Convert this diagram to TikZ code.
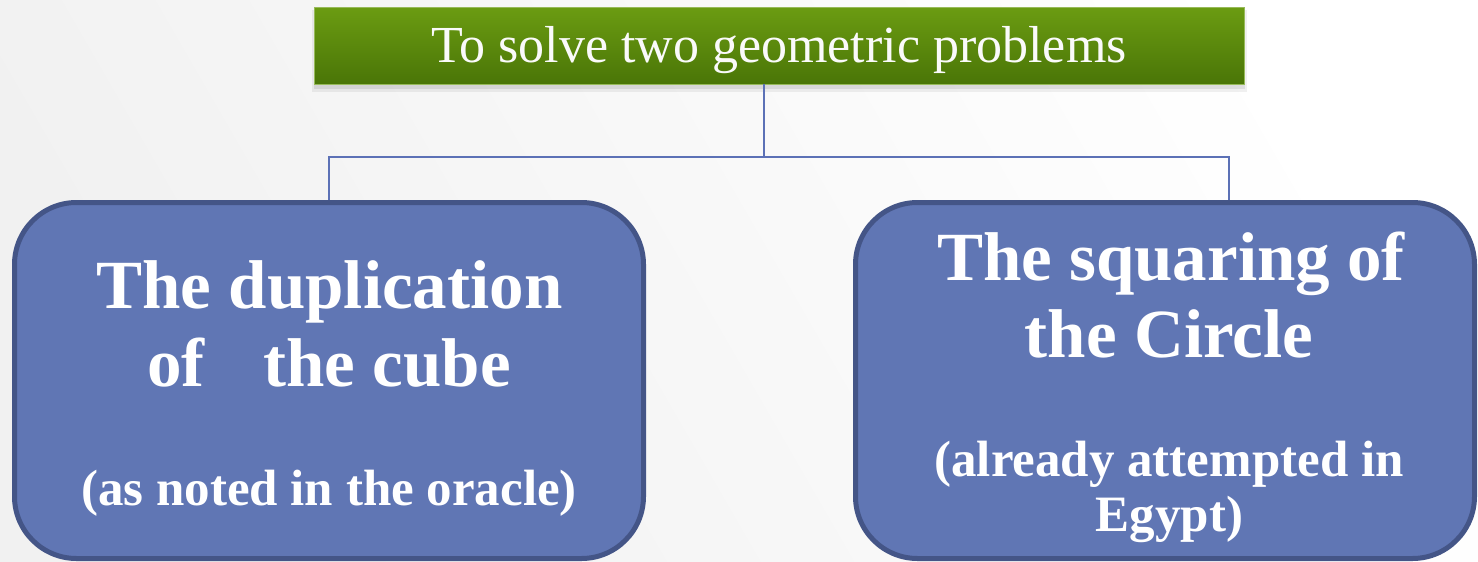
\documentclass[tikz,border=0pt]{standalone}
\usepackage{fontspec}
\setmainfont{Liberation Serif}
\usetikzlibrary{calc}
\definecolor{bgray}{HTML}{F1F1F1}
\definecolor{gtop}{HTML}{6B9C12}
\definecolor{gbot}{HTML}{4A7507}
\definecolor{bfill}{HTML}{6076B4}
\definecolor{bdraw}{HTML}{445587}
\definecolor{conncol}{HTML}{5C71B6}
\tikzset{
  x=1pt, y=-1pt,
  bluebox/.style={draw=bdraw, fill=bfill, line width=5pt, rounded corners=62pt},
  conn/.style={draw=conncol, line width=1.8pt},
  bigtxt/.style={text=white, inner sep=0pt, anchor=base, font=\bfseries\fontsize{69}{72}\selectfont},
  smalltxt/.style={text=white, inner sep=0pt, anchor=base, font=\bfseries\fontsize{51}{55}\selectfont},
}
\begin{document}
\begin{tikzpicture}
\useasboundingbox (0,0) rectangle (1478,562);
\shade[left color=bgray, right color=white, shading angle=120] (0,0) rectangle (1478,562);
% shadow of the title box
\fill[black, opacity=0.06] (312,10) rectangle (1247,92);
\fill[black, opacity=0.08] (314,10) rectangle (1245,89);
\node[minimum width=930pt, minimum height=77pt, inner sep=0pt, top color=gtop, bottom color=gbot, draw=gtop!70!white, line width=0.6pt] (top) at (779,45.5) {};
\node[text=white!96!gray, inner sep=0pt, anchor=base, font=\fontsize{52}{56}\selectfont] (toptxt) at (779,62) {To solve two geometric problems};
% blue boxes
\node[bluebox, minimum width=629pt, minimum height=356pt, inner sep=0pt] (L) at (329,380.5) {};
\node[bluebox, minimum width=619pt, minimum height=356pt, inner sep=0pt] (R) at (1165,380.5) {};
% connectors
\coordinate (j) at (764,157);
\coordinate (rc) at ($(R.north)+(64,0)$);
\draw[conn] (top.south -| j) -- (j);
\draw[conn] (j) -| (L.north);
\draw[conn] (j) -| (rc);
% texts
\node[bigtxt] (l1) at (329.5,308) {The duplication};
\node[bigtxt] (l2) at (329,386) {of\hspace{0.85em}the cube};
\node[smalltxt] (l3) at (329,505) {(as noted in the oracle)};
\node[bigtxt] (r1) at (1171,280) {The squaring of};
\node[bigtxt] (r2) at (1169,357) {the Circle};
\node[smalltxt] (r3) at (1169,476) {(already attempted in};
\node[smalltxt] (r4) at (1169.5,531) {Egypt)};
\end{tikzpicture}
\end{document}
